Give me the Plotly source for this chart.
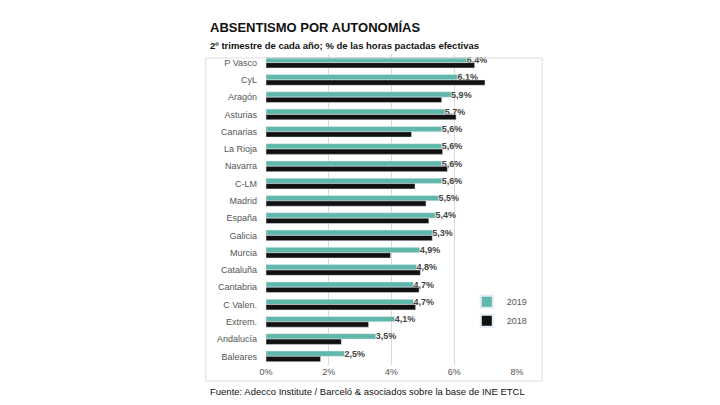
import plotly.graph_objects as go

regions = ["P Vasco", "CyL", "Aragón", "Asturias", "Canarias", "La Rioja", "Navarra", "C-LM",
           "Madrid", "España", "Galicia", "Murcia", "Cataluña", "Cantabria", "C Valen.",
           "Extrem.", "Andalucía", "Baleares"]
v2019 = [6.4, 6.1, 5.9, 5.7, 5.6, 5.6, 5.6, 5.6, 5.5, 5.4, 5.3, 4.9, 4.8, 4.7, 4.7, 4.1, 3.5, 2.5]
v2018 = [6.65, 6.98, 5.6, 6.06, 4.64, 5.63, 5.78, 4.75, 5.1, 5.19, 5.3, 3.97, 4.92, 4.88, 4.77, 3.27, 2.4, 1.74]
labels2019 = [f"<b>{v:.1f}%</b>".replace(".", ",") for v in v2019]

fig = go.Figure()
fig.add_trace(go.Bar(y=regions, x=v2019, orientation="h", name="2019", marker_color="#5fb8aa",
                     text=labels2019, textposition="outside", cliponaxis=False, constraintext="none",
                     textfont=dict(size=9, color="#444")))
fig.add_trace(go.Bar(y=regions, x=v2018, orientation="h", name="2018", marker_color="#111111"))

H = 405 - 46 - 48
fig.update_layout(
    width=720, height=405,
    paper_bgcolor="white", plot_bgcolor="white",
    font=dict(family="Liberation Sans, Arial", size=9, color="#444"),
    margin=dict(l=258, r=211, t=46, b=48),
    barmode="group", bargap=0.38, bargroupgap=0,
    xaxis=dict(range=[0, 8], dtick=2, ticksuffix="%", showgrid=True, gridcolor="#d9d9d9",
               zeroline=False, tickfont=dict(size=9, color="#555")),
    yaxis=dict(autorange="reversed", ticks="", ticklabelstandoff=8,
               tickfont=dict(size=9, color="#555")),
    legend=dict(x=0.80, y=0.25, xanchor="left", yanchor="top", font=dict(size=9, color="#555"),
                bgcolor="rgba(0,0,0,0)", itemwidth=30, itemsizing="constant"),
    shapes=[dict(type="rect", xref="paper", yref="paper", x0=-0.24, x1=1.10,
                 y0=-(380 - 364) / H, y1=1 + (46 - 50) / H,
                 line=dict(color="#dddddd", width=1))],
    annotations=[
        dict(text="<b>ABSENTISMO POR AUTONOMÍAS</b>", xref="paper", yref="paper", x=-0.23,
             y=1 + (46 - 20) / H, xanchor="left", yanchor="middle", showarrow=False,
             font=dict(size=13, color="#111")),
        dict(text="<b>2º trimestre de cada año; % de las horas pactadas efectivas</b>", xref="paper",
             yref="paper", x=-0.23, y=1 + (46 - 37) / H, xanchor="left", yanchor="middle",
             showarrow=False, font=dict(size=9.5, color="#111")),
        dict(text="Fuente: Adecco Institute / Barceló & asociados sobre la base de INE ETCL", xref="paper",
             yref="paper", x=-0.23, y=-(390 - 364) / H, xanchor="left", yanchor="middle", showarrow=False,
             font=dict(size=9.5, color="#111")),
    ],
)
fig.write_html("out.html")
